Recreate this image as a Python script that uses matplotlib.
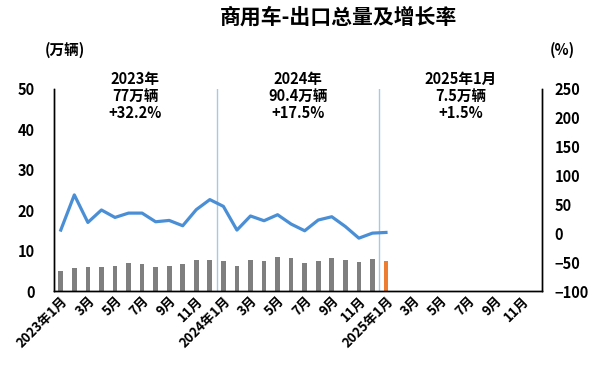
import numpy as np
import matplotlib
matplotlib.use('Agg')
import matplotlib.pyplot as plt

plt.rcParams['font.family'] = ['Noto Sans CJK SC', 'DejaVu Sans']
plt.rcParams['font.weight'] = 'bold'

# 月份标签（2023年1月 - 2025年12月）
months = []
for y in (2023, 2024, 2025):
    for m in range(1, 13):
        months.append(f'{y}年{m}月' if m == 1 else f'{m}月')

# 出口量（万辆）
volume = [5.0, 5.8, 6.0, 6.0, 6.3, 6.9, 6.6, 6.0, 6.3, 6.7, 7.7, 7.8,
          7.5, 6.1, 7.8, 7.5, 8.4, 8.2, 6.9, 7.5, 8.2, 7.7, 7.2, 7.9,
          7.5]
# 同比增长率（%）
growth = [5.6, 66.5, 18.8, 40.4, 27.5, 35.0, 35.0, 20.0, 22.3, 13.1, 41.0, 58.4,
          46.7, 5.6, 30.0, 21.8, 32.2, 16.0, 4.4, 23.0, 28.7, 11.8, -8.4, 0.3,
          1.5]

notes = ['2023年\n77万辆\n+32.2%', '2024年\n90.4万辆\n+17.5%', '2025年1月\n7.5万辆\n+1.5%']
note_x = [5.5, 17.5, 29.5]

n = len(months)
x = np.arange(n)
bar_colors = ['#7f7f7f'] * (len(volume) - 1) + ['#ed7d31']

fig = plt.figure(figsize=(6, 3.67), dpi=100)
ax = fig.add_axes([0.09, 0.207, 0.813, 0.5505])
ax2 = ax.twinx()

ax.bar(x[:len(volume)], volume, width=0.35, color=bar_colors, zorder=2)
ax.set_xlim(-0.5, n - 0.5)
ax.set_ylim(0, 50)
ax.set_yticks(range(0, 51, 10))
ax.tick_params(axis='y', length=0, labelsize=10.5, pad=14)
ax.set_xticks(x[::2])
ax.set_xticklabels(months[::2], rotation=45, ha='right', rotation_mode='anchor',
                   fontsize=9.5, fontweight='bold')
ax.tick_params(axis='x', length=0, pad=2)

ax2.plot(x[:len(growth)], growth, color='#4a8fd6', linewidth=2.3, zorder=3)
ax2.set_ylim(-100, 250)
ax2.set_yticks(range(-100, 251, 50))
ax2.tick_params(axis='y', length=0, labelsize=10.5, pad=9)

for a in (ax, ax2):
    a.spines['top'].set_visible(False)
    for s in ('left', 'right', 'bottom'):
        a.spines[s].set_color('black')
        a.spines[s].set_linewidth(1)
    for lbl in a.get_yticklabels():
        lbl.set_fontweight('bold')

for xv in (11.5, 23.5):
    ax.axvline(xv, color='#a8c8e6', linewidth=1, zorder=1)

for tx, t in zip(note_x, notes):
    ax.text(tx, 54.5, t, ha='center', va='top', fontsize=10.5, fontweight='bold',
            linespacing=1.1)

fig.text(0.565, 0.953, '商用车-出口总量及增长率', ha='center', va='center',
         fontsize=15, fontweight='bold')
fig.text(0.108, 0.865, '(万辆)', ha='center', va='center', fontsize=10.5, fontweight='bold')
fig.text(0.938, 0.865, '(%)', ha='center', va='center', fontsize=10.5, fontweight='bold')

fig.savefig('out.png', dpi=100)
